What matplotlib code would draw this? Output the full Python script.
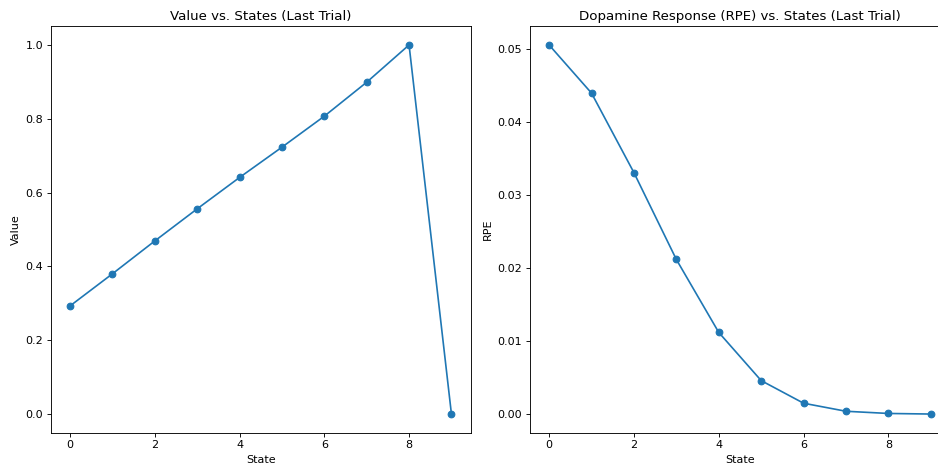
import matplotlib.pyplot as plt

states = [0, 1, 2, 3, 4, 5, 6, 7, 8, 9]
value = [0.293, 0.380, 0.469, 0.556, 0.641, 0.723, 0.807, 0.899, 1.0, 0.0]
rpe = [0.0506, 0.0440, 0.0331, 0.0212, 0.0112, 0.0046, 0.0015, 0.0004, 0.0001, 0.00002]

W, H = 938, 465
DPI = 80
fig = plt.figure(figsize=(W / DPI, H / DPI), dpi=DPI)

# right panel runs past the figure edge, like the cropped original
ax1 = fig.add_axes([51 / W, 32.5 / H, 419.5 / W, 406 / H])
ax2 = fig.add_axes([530 / W, 32.5 / H, 420 / W, 406 / H])

ax1.plot(states, value, marker="o")
ax1.set_title("Value vs. States (Last Trial)")
ax1.set_xlabel("State")
ax1.set_ylabel("Value")

ax2.plot(states, rpe, marker="o")
ax2.set_title("Dopamine Response (RPE) vs. States (Last Trial)")
ax2.set_xlabel("State")
ax2.set_ylabel("RPE")

plt.savefig("out.png", dpi=DPI)
